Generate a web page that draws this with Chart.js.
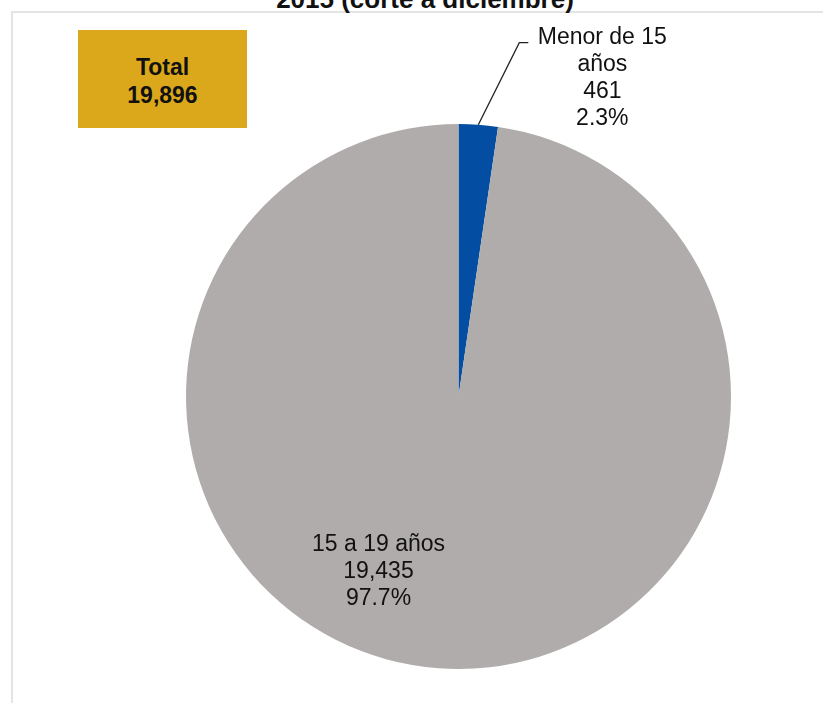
<!DOCTYPE html>
<html>
<head>
<meta charset="utf-8">
<script src="https://cdn.jsdelivr.net/npm/chart.js@4"></script>
<style>
body{margin:0;background:#fff;font-family:"Liberation Sans",Arial,sans-serif;}
#wrap{position:relative;width:823px;height:703px;overflow:hidden;}
#frame{position:absolute;left:11px;top:11px;width:830px;height:720px;border-left:2px solid #e4e4e4;border-top:2px solid #e4e4e4;}
#title{position:absolute;left:0;width:850px;top:-16px;text-align:center;font-weight:bold;font-size:26px;color:#111;}
#total{position:absolute;left:78px;top:30px;width:169px;height:98px;background:#DAA81A;color:#111;font-weight:bold;font-size:23px;text-align:center;line-height:28px;box-sizing:border-box;padding-top:23px;}
#pie{position:absolute;left:0;top:0;}
</style>
</head>
<body>
<div id="wrap">
<div id="frame"></div>
<div id="title">2015 (corte a diciembre)</div>
<div id="total">Total<br><span id="totalNum"></span></div>
<canvas id="pie" width="823" height="703"></canvas>
</div>
<script>
//data
const categories = ['Menor de 15 años', '15 a 19 años'];
const labelLines = [['Menor de 15', 'años'], ['15 a 19 años']];
const values = [461, 19435];
const colors = ['#034EA2', '#B0ACAB'];

const total = values.reduce((a, b) => a + b, 0);
document.getElementById('totalNum').textContent = total.toLocaleString('en-US');

//draws the labels, with a leader line for the small slice
const labelPlugin = {
	id: 'sliceLabels',
	afterDatasetsDraw(chart) {
		const ctx = chart.ctx;
		const meta = chart.getDatasetMeta(0);
		ctx.save();
		ctx.font = '23px "Liberation Sans", Arial, sans-serif';
		ctx.fillStyle = '#111';
		ctx.textAlign = 'center';
		ctx.textBaseline = 'middle';
		meta.data.forEach(function(arc, i) {
			const lines = labelLines[i].concat([
				values[i].toLocaleString('en-US'),
				(values[i] / total * 100).toFixed(1) + '%'
			]);
			const mid = (arc.startAngle + arc.endAngle) / 2;
			let x, y;
			if (i == 0) {
				//leader line from slice edge up to label
				const px = arc.x + Math.cos(mid) * arc.outerRadius;
				const py = arc.y + Math.sin(mid) * arc.outerRadius;
				ctx.strokeStyle = '#222';
				ctx.lineWidth = 1.3;
				ctx.beginPath();
				ctx.moveTo(px, py);
				ctx.lineTo(px + 41, py - 82);
				ctx.lineTo(px + 50, py - 82);
				ctx.stroke();
				x = px + 124;
				y = py - 87;
			} else {
				x = arc.x - 80;
				y = arc.y + 148;
			}
			lines.forEach(function(t, k) {
				ctx.fillText(t, x, y + k * 27);
			});
		});
		ctx.restore();
	}
};

new Chart(document.getElementById('pie'), {
	type: 'pie',
	data: {
		labels: categories,
		datasets: [{
			data: values,
			backgroundColor: colors,
			borderWidth: 0
		}]
	},
	options: {
		responsive: false,
		animation: false,
		layout: {padding: {left: 186, top: 124, right: 92, bottom: 34}},
		plugins: {
			legend: {display: false},
			tooltip: {enabled: false}
		}
	},
	plugins: [labelPlugin]
});
</script>
</body>
</html>
